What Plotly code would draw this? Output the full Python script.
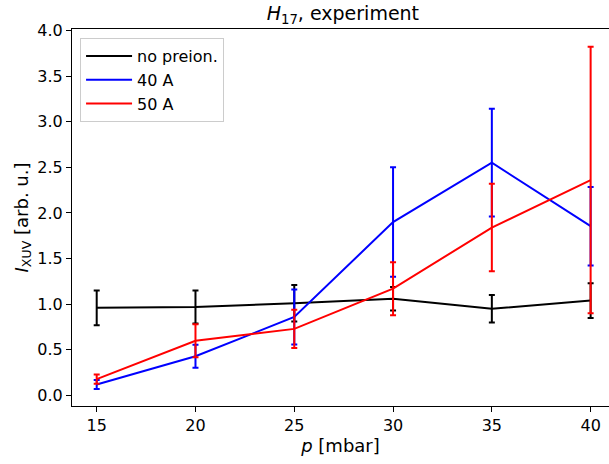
import plotly.graph_objects as go

p = [15, 20, 25, 30, 35, 40]

no_preion = [0.96, 0.97, 1.01, 1.06, 0.95, 1.04]
no_preion_err = [0.19, 0.18, 0.20, 0.13, 0.15, 0.19]

a40 = [0.12, 0.43, 0.86, 1.90, 2.55, 1.855]
a40_err = [0.05, 0.125, 0.30, 0.60, 0.59, 0.43]

a50 = [0.18, 0.60, 0.73, 1.17, 1.84, 2.36]
a50_err = [0.05, 0.18, 0.21, 0.29, 0.48, 1.46]

series = [
    ("no preion.", no_preion, no_preion_err, "#000000"),
    ("40 A", a40, a40_err, "#0000ff"),
    ("50 A", a50, a50_err, "#ff0000"),
]

y_ticks = [0.0, 0.5, 1.0, 1.5, 2.0, 2.5, 3.0, 3.5, 4.0]
x_ticks = [15, 20, 25, 30, 35, 40]

fig = go.Figure()
for name, vals, errs, col in series:
    fig.add_trace(go.Scatter(
        x=p, y=vals, name=name, mode="lines",
        line=dict(color=col, width=2),
        error_y=dict(type="data", array=errs, visible=True, color=col,
                     thickness=2, width=3),
    ))

ff = "DejaVu Sans"
f16 = dict(family=ff, size=16, color="black")
f18 = dict(family=ff, size=18, color="black")
fig.update_layout(
    width=609, height=464,
    margin=dict(l=72, r=0, t=29, b=58),
    paper_bgcolor="white", plot_bgcolor="white",
    font=f16,
    title=dict(text="<i>H</i><sub>17</sub>, experiment", x=0.563, xanchor="center",
               y=0.985, yanchor="top", font=dict(family=ff, size=19, color="black")),
    showlegend=True,
    legend=dict(x=0.015, y=0.976, xanchor="left", yanchor="top",
                bgcolor="rgba(255,255,255,0.8)", bordercolor="#cccccc", borderwidth=1,
                font=f16, tracegroupgap=0, itemwidth=46),
)
fig.update_xaxes(
    range=[13.75, 40.93], tickvals=x_ticks, ticktext=[str(v) for v in x_ticks],
    showgrid=False, zeroline=False, showline=True, linecolor="black", linewidth=1,
    mirror=True, ticks="outside", ticklen=5, tickcolor="black",
    tickfont=f16,
    title=dict(text="<i>p</i> [mbar]", standoff=2, font=f18),
)
fig.update_yaxes(
    range=[-0.115, 4.015], tickvals=y_ticks, ticktext=[f"{v:.1f}" for v in y_ticks],
    showgrid=False, zeroline=False, showline=True, linecolor="black", linewidth=1,
    mirror=False, ticks="outside", ticklen=5, tickcolor="black",
    tickfont=f16,
    title=dict(text="<i>I</i><sub>XUV</sub> [arb. u.]", standoff=4, font=f18),
)

fig.write_html("out.html")
